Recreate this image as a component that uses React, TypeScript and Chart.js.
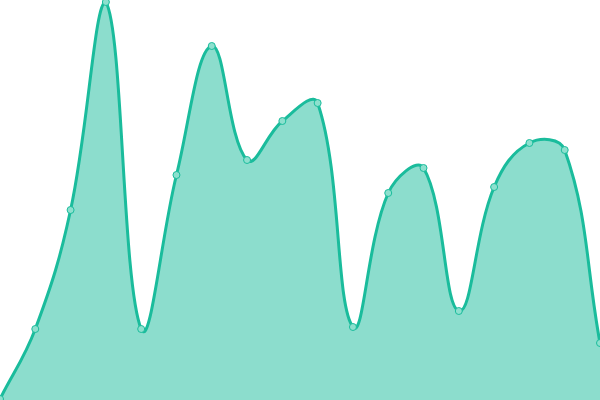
import { useEffect, useRef } from 'react'
import { Chart, registerables } from 'chart.js'

Chart.register(...registerables)

const LABELS = ['1', '2', '3', '4', '5', '6', '7', '8', '9', '10', '11', '12', '13', '14', '15', '16', '17', '18']
const VALUES = [1, 71, 190, 398, 71, 225, 354, 240, 279, 297, 73, 207, 232, 89, 213, 257, 250, 57]

const LINE = '#1abc9c'
const FILL = 'rgba(26, 188, 156, 0.5)'
const POINT_FILL = '#8de0ce'

export default function App() {
  const canvasRef = useRef<HTMLCanvasElement>(null)

  useEffect(() => {
    if (!canvasRef.current) return
    const chart = new Chart(canvasRef.current, {
      type: 'line',
      data: {
        labels: LABELS,
        datasets: [
          {
            data: VALUES,
            borderColor: LINE,
            backgroundColor: FILL,
            borderWidth: 3,
            tension: 0.4,
            fill: true,
            pointRadius: 3.5,
            pointBorderWidth: 1,
            pointBorderColor: LINE,
            pointBackgroundColor: POINT_FILL,
          },
        ],
      },
      options: {
        animation: false,
        responsive: false,
        maintainAspectRatio: false,
        layout: { padding: 0, autoPadding: false },
        plugins: { legend: { display: false }, tooltip: { enabled: false } },
        scales: {
          x: { display: false },
          y: { display: false, min: 0, max: 400 },
        },
      },
    })
    return () => chart.destroy()
  }, [])

  return (
    <div style={{ position: 'fixed', left: 0, top: 0, width: 600, height: 400, background: '#fff' }}>
      <canvas ref={canvasRef} width={600} height={400} style={{ display: 'block' }} />
    </div>
  )
}
